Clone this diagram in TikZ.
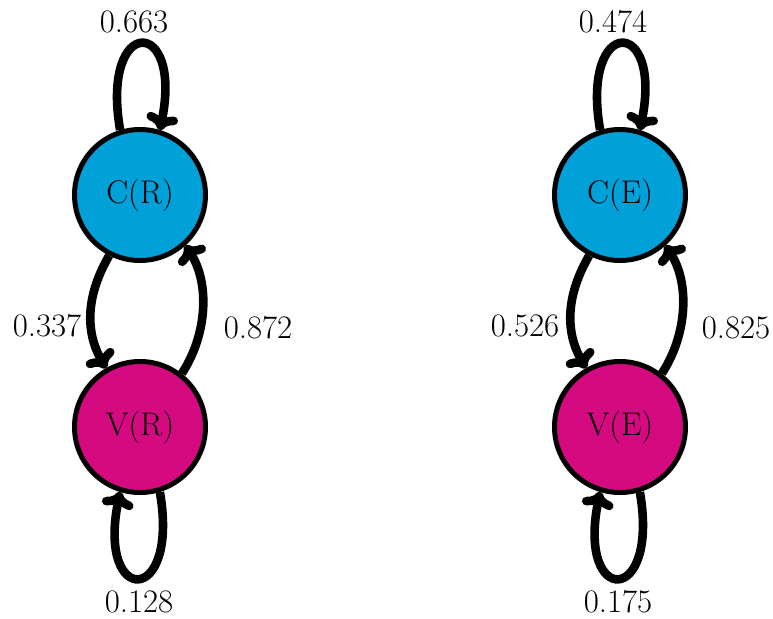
\documentclass[tikz,border=0pt]{standalone}
\usetikzlibrary{arrows.meta}
\definecolor{nodeblue}{RGB}{0,160,217}
\definecolor{nodemag}{RGB}{214,10,128}
\begin{document}
\begin{tikzpicture}[x=0.5pt,y=-0.5pt,
  state/.style={circle,draw=black,line width=2.5pt,minimum size=65.5pt,inner sep=0pt,font=\fontsize{16.4}{19}\selectfont},
  trans/.style={line width=4.3pt,-{Computer Modern Rightarrow[length=8pt,width=16pt]}},
  lab/.style={font=\fontsize{16.4}{19}\selectfont,inner sep=0pt}]
\useasboundingbox (0,0) rectangle (773,618);
% left chain
\node[state,fill=nodeblue] (cr) at (140,195) {C(R)};
\node[state,fill=nodemag] (vr) at (140,427) {V(R)};
\draw[trans] (cr.107) .. controls +(-20,-115) and +(24,-115) .. (cr.73);
\draw[trans] (vr.-73) .. controls +(20,115) and +(-24,115) .. (vr.-107);
\draw[trans] (cr.243) .. controls +(-22,38) and +(-22,-38) .. (vr.120);
\draw[trans] (vr.52) .. controls +(25,-38) and +(25,38) .. (cr.-48);
\node[lab] (lcc) at (134,22) {0.663};
\node[lab] (lvv) at (139,602) {0.128};
\node[lab] (lcv) at (47,326) {0.337};
\node[lab] (lvc) at (258,328) {0.872};
% right chain
\node[state,fill=nodeblue] (ce) at (620,195) {C(E)};
\node[state,fill=nodemag] (ve) at (620,427) {V(E)};
\draw[trans] (ce.107) .. controls +(-20,-115) and +(24,-115) .. (ce.73);
\draw[trans] (ve.-73) .. controls +(20,115) and +(-24,115) .. (ve.-107);
\draw[trans] (ce.243) .. controls +(-22,38) and +(-22,-38) .. (ve.120);
\draw[trans] (ve.52) .. controls +(25,-38) and +(25,38) .. (ce.-48);
\node[lab] (rcc) at (613,22) {0.474};
\node[lab] (rvv) at (618,602) {0.175};
\node[lab] (rcv) at (525,326) {0.526};
\node[lab] (rvc) at (736,328) {0.825};
\end{tikzpicture}
\end{document}
